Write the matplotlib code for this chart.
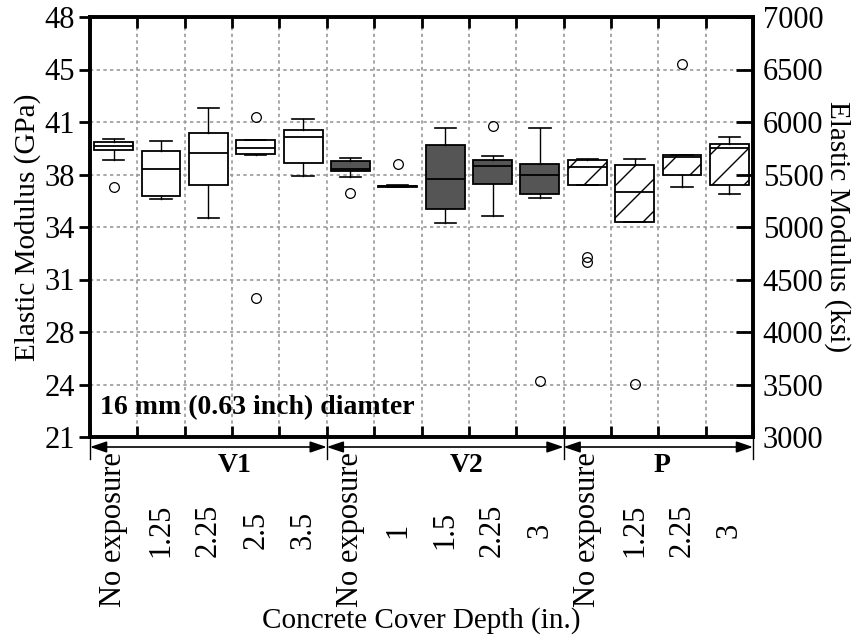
import matplotlib
matplotlib.use("Agg")
import matplotlib.pyplot as plt
import matplotlib.transforms as mtransforms
import numpy as np

plt.rcParams['font.family'] = ['Liberation Serif', 'DejaVu Serif']
plt.rcParams['mathtext.fontset'] = 'stix'

# ---------------- data (ksi) ----------------
categories = ["No exposure", "1.25", "2.25", "2.5", "3.5",
              "No exposure", "1", "1.5", "2.25", "3",
              "No exposure", "1.25", "2.25", "3"]
groups = ["V1", "V2", "P"]
group_sizes = [5, 5, 4]

whislo = [5638, 5270, 5089, 5690, 5483,
          5476, 5382, 5038, 5102, 5273,
          5397, 5048, 5378, 5317]
q1 = [5733, 5295, 5397, 5695, 5607,
      5530, 5385, 5169, 5410, 5311,
      5397, 5048, 5495, 5400]
med = [5771, 5550, 5708, 5750, 5860,
       5555, 5390, 5454, 5581, 5495,
       5574, 5330, 5663, 5750]
q3 = [5807, 5721, 5892, 5826, 5921,
      5631, 5395, 5778, 5634, 5600,
      5638, 5593, 5689, 5788]
whishi = [5838, 5822, 6130, 5826, 6026,
          5660, 5398, 5943, 5676, 5946,
          5645, 5650, 5689, 5860]
fliers = [[5381], [], [], [6050, 4321], [],
          [5321], [5600], [], [5962], [3533],
          [4710, 4667], [3505], [6552], []]

ksi_ticks = [3000, 3500, 4000, 4500, 5000, 5500, 6000, 6500, 7000]
gpa_labels = ["21", "24", "28", "31", "34", "38", "41", "45", "48"]

# ---------------- figure ----------------
W, H = 857, 644
fig = plt.figure(figsize=(W / 100, H / 100), dpi=100)
ax = fig.add_axes([90 / W, 1 - 437 / H, (753 - 90) / W, (437 - 17) / H])

stats = []
for i in range(len(categories)):
    stats.append(dict(med=med[i], q1=q1[i], q3=q3[i], whislo=whislo[i],
                      whishi=whishi[i], fliers=fliers[i]))
pos = np.arange(len(categories))

bp = ax.bxp(stats, positions=pos, widths=0.82, capwidths=0.45,
            patch_artist=True, showfliers=True,
            boxprops=dict(edgecolor='black', linewidth=1.3, facecolor='white'),
            whiskerprops=dict(color='black', linewidth=1.0),
            capprops=dict(color='black', linewidth=1.2),
            medianprops=dict(color='black', linewidth=1.3),
            flierprops=dict(marker='o', markerfacecolor='none',
                            markeredgecolor='black', markersize=7,
                            markeredgewidth=0.9))
for z in (bp['boxes'] + bp['whiskers'] + bp['caps'] + bp['medians'] + bp['fliers']):
    z.set_zorder(3)

group_index = []
for g, n in enumerate(group_sizes):
    group_index += [g] * n
for i, b in enumerate(bp['boxes']):
    if group_index[i] == 1:
        b.set_facecolor('#555555')

ax.set_xlim(-0.5, len(categories) - 0.5)
ax.set_ylim(3000, 7000)

# manual sparse hatch for P group boxes
fig.canvas.draw()
inv = ax.transData.inverted()
spacing = 32
for i, b in enumerate(bp['boxes']):
    if group_index[i] != 2:
        continue
    bb = b.get_window_extent()
    x0, x1, y0, y1 = bb.x0, bb.x1, bb.y0, bb.y1
    cmin = x0 + (H - y1)
    cmax = x1 + (H - y0)
    c = np.ceil((cmin - 1) / spacing) * spacing + 1
    while c <= cmax:
        xs = np.array([x0 - 5, x1 + 5])
        ys = xs + H - c
        pts = inv.transform(np.column_stack([xs, ys]))
        ln, = ax.plot(pts[:, 0], pts[:, 1], color='black', lw=1.0, zorder=3.5)
        ln.set_clip_path(b)
        c += spacing

# ---------------- axes styling ----------------
ax.set_yticks(ksi_ticks)
ax.set_yticklabels(gpa_labels, fontsize=22)
ax.tick_params(axis='y', which='major', direction='out', length=8, width=2, pad=3)

ax.set_xticks(pos)
ax.set_xticklabels(categories, fontsize=22, rotation=90)
for lab in ax.get_xticklabels():
    lab.set_va('center')
    lab.set_ha('center')
ax.tick_params(axis='x', which='major', length=0, pad=67)
ax.set_xticks(np.arange(-0.5, len(categories), 1.0), minor=True)
ax.tick_params(axis='x', which='minor', direction='in', length=8, width=2,
               top=True, bottom=True)

ax.grid(True, axis='y', which='major', color='#999999', linestyle=(0, (2, 2)), linewidth=1.2)
ax.grid(True, axis='x', which='minor', color='#999999', linestyle=(0, (2, 2)), linewidth=1.2)
ax.set_axisbelow(True)
for s in ax.spines.values():
    s.set_linewidth(2.6)

ax.set_ylabel("Elastic Modulus (GPa)", fontsize=21)
ax.yaxis.set_label_coords(-(90 - 28) / 663, 0.5)
ax.yaxis.label.set_va('center')
ax.set_xlabel("Concrete Cover Depth (in.)", fontsize=21)
ax.xaxis.set_label_coords(0.5, -(621 - 437) / 420)
ax.xaxis.label.set_va('center')

ax2 = ax.twinx()
ax2.set_ylim(3000, 7000)
ax2.set_yticks(ksi_ticks)
ax2.set_yticklabels([str(t) for t in ksi_ticks], fontsize=22)
ax2.tick_params(axis='y', direction='in', length=12, width=2, pad=7)
ax2.set_ylabel("Elastic Modulus (ksi)", fontsize=21, rotation=270)
ax2.yaxis.set_label_coords(1 + (837 - 753) / 663, 0.5)
ax2.yaxis.label.set_va('center')
for s in ax2.spines.values():
    s.set_linewidth(2.6)

ax.text(0.015, (437 - 408) / 420, "16 mm (0.63 inch) diamter", transform=ax.transAxes,
        fontsize=20, fontweight='bold', ha='left', va='center', zorder=5)

# group arrows
trans = mtransforms.blended_transform_factory(ax.transData, ax.transAxes)
bounds = [-0.5]
for n in group_sizes:
    bounds.append(bounds[-1] + n)
y_arrow = -(447 - 437) / 420
y_sep = -(459 - 437) / 420
for bnd in bounds:
    ax.plot([bnd, bnd], [0, y_sep], transform=trans, color='black', lw=1.0, clip_on=False)
label_x = [2.56, 7.45, 11.57]
for g in range(len(groups)):
    ax.annotate('', xy=(bounds[g + 1], y_arrow), xytext=(bounds[g], y_arrow),
                xycoords=trans, textcoords=trans, annotation_clip=False,
                arrowprops=dict(arrowstyle='<|-|>,head_length=0.5,head_width=0.17',
                                color='black', lw=1.2, mutation_scale=20,
                                shrinkA=0, shrinkB=0))
    ax.text(label_x[g], -(466 - 437) / 420, groups[g], transform=trans,
            fontsize=20, fontweight='bold', ha='center', va='center')

fig.savefig("out.png", dpi=100)
